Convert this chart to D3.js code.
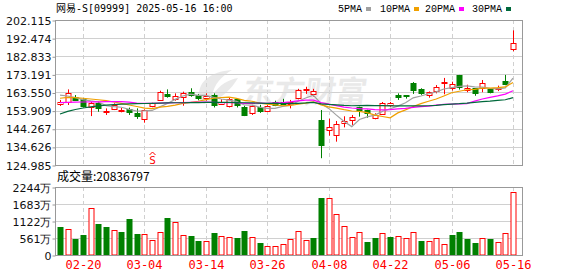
<!DOCTYPE html>
<html>
<head>
<meta charset="utf-8">
<style>
  body { margin: 0; background: #fff; }
  svg { display: block; }
</style>
</head>
<body>
<svg width="578" height="276"></svg>
<script src="https://cdn.jsdelivr.net/npm/d3@7"></script>
<script>
// trading days shown (HK market, 2025)
const dates = ['02-17','02-18','02-19','02-20','02-21','02-24','02-25','02-26','02-27','02-28',
  '03-03','03-04','03-05','03-06','03-07','03-10','03-11','03-12','03-13','03-14',
  '03-17','03-18','03-19','03-20','03-21','03-24','03-25','03-26','03-27','03-28','03-31',
  '04-01','04-02','04-03','04-07','04-08','04-09','04-10','04-11','04-14','04-15','04-16','04-17',
  '04-22','04-23','04-24','04-25','04-28','04-29','04-30',
  '05-02','05-06','05-07','05-08','05-09','05-12','05-13','05-14','05-15','05-16'];

const open  = [157.4,158.1,161.3,159.9,156.0,158.1,152.9,154.6,154.0,154.6,
  152.5,149.3,156.0,159.9,162.6,159.9,161.3,164.0,162.2,160.8,
  162.2,157.4,156.4,159.9,156.0,152.5,156.0,154.0,158.7,158.7,157.8,
  160.5,164.5,162.6,148.9,143.6,141.0,147.2,148.9,156.0,154.2,149.8,152.1,
  156.5,162.2,162.2,168.4,165.2,161.9,164.4,
  168.5,165.8,172.9,164.9,165.8,165.8,165.4,165.3,169.7,186.5];
const high  = [159.6,165.2,162.2,160.5,158.5,158.7,155.1,157.8,155.3,155.5,
  155.1,154.6,158.1,164.5,165.2,163.1,164.0,165.8,162.8,163.1,
  163.1,160.0,161.0,160.5,156.5,157.0,157.0,156.8,159.2,160.2,159.6,
  165.5,166.6,165.5,154.2,149.6,148.4,150.9,151.6,156.0,154.4,152.5,158.5,
  158.5,163.1,162.2,169.1,165.8,164.1,167.5,
  171.3,169.3,172.9,167.7,165.8,170.2,165.4,167.2,172.9,196.6];
const low   = [156.4,156.9,159.2,155.6,151.0,153.3,151.6,154.2,153.0,151.6,
  149.5,147.5,155.7,159.6,160.8,159.2,156.5,161.3,159.4,159.2,
  155.6,157.0,155.6,155.6,151.0,151.6,152.7,153.4,156.3,156.9,155.1,
  159.9,162.8,161.4,128.6,140.6,137.4,145.0,146.3,150.7,150.1,149.3,151.6,
  156.0,159.6,160.3,162.8,162.3,160.8,163.1,
  162.6,164.6,165.1,163.7,161.8,163.7,163.1,164.3,167.4,185.5];
const close = [158.5,163.1,159.9,156.0,158.1,155.5,153.5,156.9,154.4,152.8,
  150.7,154.2,157.8,164.0,161.7,161.7,163.4,162.6,160.5,161.7,
  156.9,158.7,159.9,156.9,151.9,156.4,153.9,156.4,156.9,157.4,158.7,
  164.9,165.2,164.3,135.6,145.4,146.8,148.5,150.5,154.6,152.5,151.6,158.1,
  157.8,161.3,161.6,164.5,163.1,163.6,166.3,
  169.0,167.9,166.6,165.8,163.4,168.5,164.0,165.8,168.1,189.7];
const prevClose = 160.6; // close of the session before 02-17

// moving averages
const ma5  = [162.2,161.7,160.8,159.8,159.1,158.5,156.6,156.0,155.7,154.6,
  153.7,153.8,154.0,155.9,157.7,159.9,161.7,162.7,162.0,162.0,
  161.0,160.1,159.5,158.8,156.9,156.8,155.8,155.1,155.1,156.2,156.7,
  158.9,160.6,162.1,157.7,155.1,151.5,148.1,145.4,149.2,150.6,151.5,153.5,
  154.9,156.3,158.1,160.7,161.7,162.9,163.9,
  165.4,166.1,166.8,167.1,166.5,166.4,165.7,165.5,166.0,171.2];
const ma10 = [160.5,161.0,160.8,160.5,160.1,159.7,159.2,158.5,157.8,156.9,
  156.1,155.2,155.0,155.8,156.2,156.8,157.8,158.3,158.9,159.8,
  160.5,160.9,161.1,160.4,159.4,158.9,157.9,157.3,157.0,156.5,156.7,
  157.3,157.9,158.6,157.0,155.9,155.2,154.4,153.7,153.5,152.8,151.5,150.8,
  150.1,152.7,154.3,156.1,157.6,158.9,160.1,
  161.7,163.4,164.2,165.0,165.2,165.9,165.9,166.1,166.5,168.9];
const ma20 = [158.2,158.3,158.4,158.5,158.6,158.6,158.7,158.7,158.7,158.4,
  157.9,157.8,157.8,157.9,158.0,158.1,158.2,158.3,158.4,158.4,
  158.3,158.1,158.1,158.1,157.8,157.8,157.9,157.8,158.0,158.2,158.6,
  159.1,159.5,159.5,158.2,157.4,156.6,155.8,155.3,155.0,154.8,154.4,154.3,
  154.4,154.8,155.1,155.6,156.0,156.3,156.8,
  157.3,157.4,157.5,157.6,159.0,160.1,161.0,161.8,162.7,164.5];
const ma30 = [152.1,153.5,154.5,155.3,155.9,156.4,156.8,157.1,157.4,157.5,
  157.6,157.7,157.8,157.9,158.0,158.1,158.1,158.2,158.2,158.3,
  158.3,158.3,158.3,158.2,158.1,158.0,157.9,157.8,157.8,157.7,157.8,
  157.8,158.0,158.3,157.5,157.2,157.0,156.7,156.5,156.6,156.7,156.6,156.6,
  156.4,156.4,156.4,156.4,156.4,156.5,156.7,
  157.1,157.4,157.6,157.9,158.3,158.7,159.0,159.4,159.7,160.8];

// volume in 万 shares
const volume = [934,848,528,660,1540,1023,934,815,759,1188,
  693,683,485,749,1211,1079,650,627,462,462,
  715,627,585,561,792,594,385,297,297,352,517,
  792,484,561,1870,1870,1342,946,594,748,418,561,715,
  594,627,561,759,462,462,561,
  363,660,759,528,406,561,528,429,715,2084];
const lastVolume = 20836797;

const priceTicks = [124.985,134.626,144.267,153.909,163.550,173.191,182.833,192.474,202.115];
const volTicks = [0,561,1122,1683,2244];
const dateTicks = ['02-20','03-04','03-14','03-26','04-08','04-22','05-06','05-16'];
const signalDate = '03-05';

const title = '网易-S[09999] 2025-05-16 16:00';
const maNames = ['5PMA','10PMA','20PMA','30PMA'];
const maColors = ['#a0a0a0','#f0a000','#ff00ff','#00693c'];
const maSeries = [ma5, ma10, ma20, ma30];

const UP = '#ff0000', DOWN = '#008000', FRAME = '#999', GRID = '#d0d0d0';

// layout
const box = {left: 55, right: 522, top: 20, bottom: 165, vtop: 187, vbottom: 255};
const svg = d3.select('svg');

const x = d3.scalePoint().domain(dates).range([box.left + 5, box.right - 9]);
const y = d3.scaleLinear().domain([priceTicks[0], priceTicks[priceTicks.length - 1]]).range([box.bottom, box.top]);
const yv = d3.scaleLinear().domain([0, volTicks[volTicks.length - 1]]).range([box.vbottom, box.vtop]);
const px = d => Math.round(x(d)) + 0.5;

// horizontal grid
svg.append('g').selectAll('line').data(priceTicks).enter().append('line')
  .attr('x1', box.left).attr('x2', box.right)
  .attr('y1', d => Math.round(y(d)) + 0.5).attr('y2', d => Math.round(y(d)) + 0.5)
  .attr('stroke', GRID);
svg.append('g').selectAll('line').data(volTicks).enter().append('line')
  .attr('x1', box.left).attr('x2', box.right)
  .attr('y1', d => Math.round(yv(d)) + 0.5).attr('y2', d => Math.round(yv(d)) + 0.5)
  .attr('stroke', GRID);

// vertical dashed grid at labelled dates
[[box.top, box.bottom], [box.vtop, box.vbottom]].forEach(([t, b]) => {
  svg.append('g').selectAll('line').data(dateTicks).enter().append('line')
    .attr('x1', px).attr('x2', px).attr('y1', t).attr('y2', b)
    .attr('stroke', GRID).attr('stroke-dasharray', '4,3');
});

// watermark
const wm = svg.append('g').attr('opacity', 0.55);
wm.append('path')
  .attr('d', 'M200,100 C196,86 206,72 232,70 C222,76 214,84 212,96 C220,84 228,80 238,78 C232,88 222,100 204,104 Z')
  .attr('fill', '#d8d8d8');
wm.append('text')
  .attr('x', 242).attr('y', 103)
  .attr('transform', 'skewX(-8) translate(14,0)')
  .style('font', 'bold 31px "Noto Sans CJK SC"')
  .attr('fill', '#d8d8d8')
  .text('东方财富');

// candles
const candles = svg.append('g').selectAll('g').data(dates).enter().append('g');
candles.append('line')
  .attr('x1', px).attr('x2', px)
  .attr('y1', (d, i) => y(high[i])).attr('y2', (d, i) => y(low[i]))
  .attr('stroke', (d, i) => close[i] >= open[i] ? UP : DOWN);
candles.append('rect')
  .attr('x', d => px(d) - 2.5)
  .attr('width', 5)
  .attr('y', (d, i) => Math.round(y(Math.max(open[i], close[i]))) + 0.5)
  .attr('height', (d, i) => Math.max(1, Math.round(Math.abs(y(open[i]) - y(close[i])))))
  .attr('fill', (d, i) => close[i] >= open[i] ? '#fff' : DOWN)
  .attr('stroke', (d, i) => close[i] >= open[i] ? UP : DOWN);

// moving averages
const line = d3.line().x(d => x(d.date)).y(d => y(d.v));
maSeries.forEach((s, k) => {
  svg.append('path')
    .datum(dates.map((d, i) => ({date: d, v: s[i]})))
    .attr('d', line)
    .attr('fill', 'none')
    .attr('stroke', maColors[k])
    .attr('stroke-width', 1.2);
});

// buy signal marker
const sx = px(signalDate);
svg.append('path')
  .attr('d', `M${sx - 3},${box.bottom - 10} L${sx},${box.bottom - 13} L${sx + 3},${box.bottom - 10}`)
  .attr('fill', 'none').attr('stroke', UP);
svg.append('text')
  .attr('x', sx).attr('y', box.bottom - 1)
  .attr('text-anchor', 'middle')
  .style('font', '11px "DejaVu Sans Mono"')
  .attr('fill', UP).text('S');

// volume bars
svg.append('g').selectAll('rect').data(dates).enter().append('rect')
  .attr('x', d => px(d) - 2.5)
  .attr('width', 5)
  .attr('y', (d, i) => Math.round(yv(volume[i])) + 0.5)
  .attr('height', (d, i) => box.vbottom - Math.round(yv(volume[i])) - 0.5)
  .attr('fill', (d, i) => close[i] >= (i ? close[i - 1] : prevClose) ? '#fff' : DOWN)
  .attr('stroke', (d, i) => close[i] >= (i ? close[i - 1] : prevClose) ? UP : DOWN);

// frames
svg.append('rect').attr('x', box.left + 0.5).attr('y', box.top + 0.5)
  .attr('width', box.right - box.left).attr('height', box.bottom - box.top)
  .attr('fill', 'none').attr('stroke', FRAME);
svg.append('rect').attr('x', box.left + 0.5).attr('y', box.vtop + 0.5)
  .attr('width', box.right - box.left).attr('height', box.vbottom - box.vtop)
  .attr('fill', 'none').attr('stroke', FRAME);

// y axes
const yAxis = svg.append('g').attr('transform', `translate(${box.left + 0.5},0.5)`)
  .call(d3.axisLeft(y).tickValues(priceTicks).tickSize(3).tickFormat(d3.format('.3f')));
const vAxis = svg.append('g').attr('transform', `translate(${box.left + 0.5},0.5)`)
  .call(d3.axisLeft(yv).tickValues(volTicks).tickSize(3).tickFormat(d => d ? d + '万' : '0'));
[yAxis, vAxis].forEach(g => {
  g.select('.domain').remove();
  g.selectAll('line').attr('stroke', FRAME);
  g.selectAll('text').attr('x', -4).attr('fill', '#111')
    .style('font', '11px "DejaVu Sans"');
});

// date labels
svg.append('g').selectAll('text').data(dateTicks).enter().append('text')
  .attr('x', px).attr('y', 269)
  .attr('text-anchor', 'middle')
  .style('font', '12px "DejaVu Sans Mono"')
  .attr('fill', UP)
  .text(d => d);

// title and legend
svg.append('text').attr('x', 56).attr('y', 12)
  .style('font', '10px "DejaVu Sans Mono", "Noto Sans CJK SC"')
  .attr('fill', '#000').text(title);

const legendX = [338, 380, 425, 472];
const legend = svg.append('g').selectAll('g').data(maNames).enter().append('g')
  .attr('transform', (d, i) => `translate(${legendX[i]},0)`);
legend.append('text').attr('y', 12)
  .style('font', '10px "Liberation Mono"')
  .attr('fill', '#000').text(d => d);
legend.append('rect')
  .attr('x', d => d.length * 6 + 4).attr('y', 7)
  .attr('width', 5).attr('height', 4)
  .attr('fill', (d, i) => maColors[i]);

svg.append('text').attr('x', 57).attr('y', 181)
  .style('font', '12px "Noto Sans CJK SC"')
  .attr('fill', '#000').text('成交量:' + lastVolume);
</script>
</body>
</html>
